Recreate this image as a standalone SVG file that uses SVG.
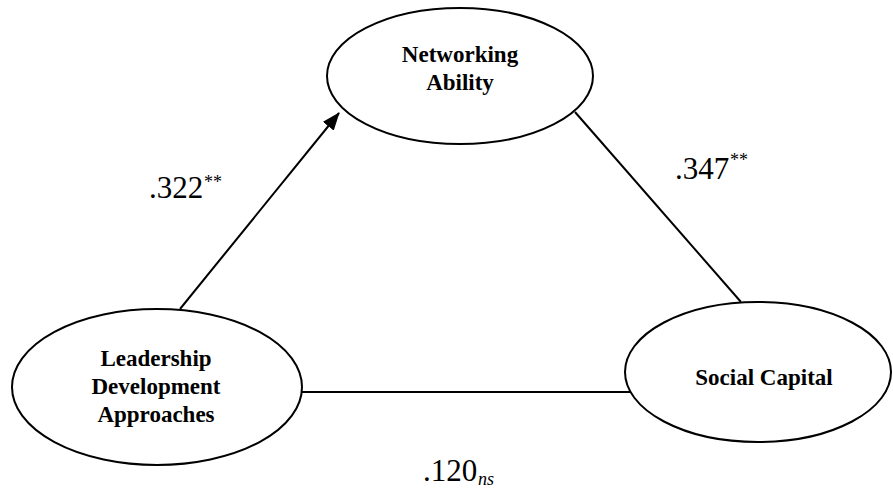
<svg xmlns="http://www.w3.org/2000/svg" width="893" height="489" viewBox="0 0 893 489">
<style>
.node{fill:#fff;stroke:#000;stroke-width:2}
.lbl{font-family:"Liberation Serif","Times New Roman",serif;font-weight:bold;font-size:23px;text-anchor:middle;fill:#000}
.num{font-family:"Liberation Serif","Times New Roman",serif;font-size:31px;fill:#000}
.sup{font-family:"Liberation Serif","Times New Roman",serif;font-size:18px;fill:#000}
.edge{stroke:#000;stroke-width:2;fill:none}
</style>
<defs>
<marker id="arr" markerWidth="18" markerHeight="14" refX="17" refY="7" orient="auto" markerUnits="userSpaceOnUse" viewBox="0 0 18 14">
<path d="M0,0 L18,7 L0,14 Z" fill="#000"/>
</marker>
</defs>
<rect width="893" height="489" fill="#fff"/>
<g id="connectors">
<line class="edge" x1="180" y1="309" x2="339" y2="113" marker-end="url(#arr)"/>
<line class="edge" x1="575" y1="112" x2="741" y2="302"/>
<line class="edge" x1="302" y1="392" x2="631" y2="392"/>
</g>
<g id="networking">
<ellipse class="node" cx="460" cy="76" rx="133" ry="68"/>
<text class="lbl" x="460" y="62">Networking</text>
<text class="lbl" x="460" y="90">Ability</text>
</g>
<g id="leadership">
<ellipse class="node" cx="157" cy="387" rx="145" ry="78"/>
<text class="lbl" x="156" y="366">Leadership</text>
<text class="lbl" x="156" y="394">Development</text>
<text class="lbl" x="156" y="422">Approaches</text>
</g>
<g id="social">
<ellipse class="node" cx="758" cy="372" rx="133" ry="70"/>
<text class="lbl" x="764" y="385">Social Capital</text>
</g>
<g id="labels">
<text class="num" x="149" y="198">.322</text>
<text class="sup" x="204" y="188">**</text>
<text class="num" x="675" y="179">.347</text>
<text class="sup" x="730" y="166">**</text>
<text class="num" x="423" y="481">.120</text>
<text class="sup" x="478" y="485" font-style="italic">ns</text>
</g>
</svg>
